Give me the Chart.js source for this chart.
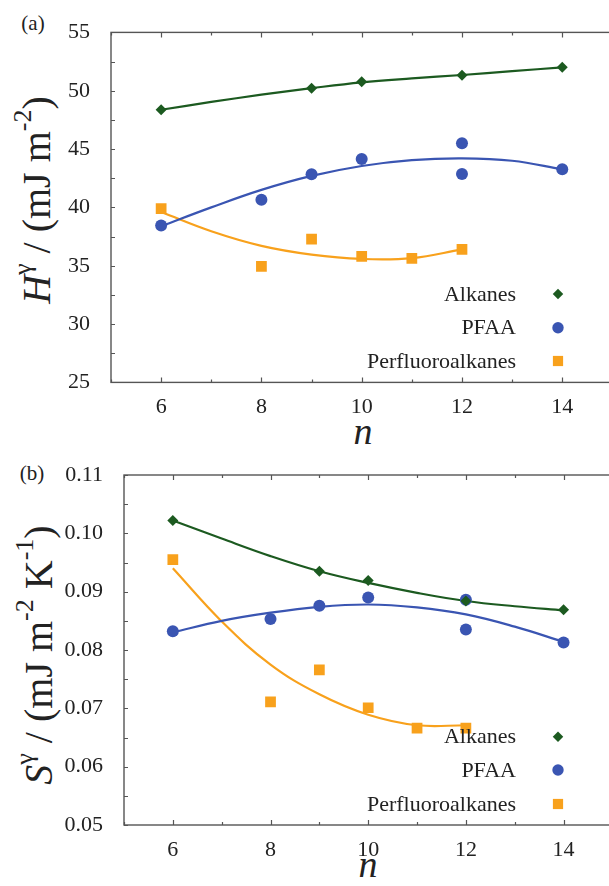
<!DOCTYPE html>
<html>
<head>
<meta charset="utf-8">
<script src="https://cdn.jsdelivr.net/npm/chart.js@4/dist/chart.umd.min.js"></script>
<style>
  body { margin: 0; width: 609px; height: 886px; overflow: hidden; position: relative; background: #fff; font-family: 'Liberation Serif', 'DejaVu Serif', serif; color: #222; }
  canvas { position: absolute; left: 0; }
  .lbl { position: absolute; transform: translate(-50%, -50%); white-space: nowrap; }
  .ytitle { position: absolute; transform: translate(-50%, -50%) rotate(-90deg); white-space: nowrap; font-size: 40px; }
  .ytitle sup { font-size: 26px; vertical-align: 0.7em; line-height: 0; }
  .xtitle { font-size: 38px; font-style: italic; }
  .panel { font-size: 21px; }
</style>
</head>
<body>
<div class="lbl panel" style="left:33px;top:23px">(a)</div>
<div class="lbl panel" style="left:32px;top:473px">(b)</div>
<div class="ytitle" style="left:36px;top:200px"><i>H</i><sup>γ</sup> / (mJ m<sup>-2</sup>)</div>
<div class="ytitle" style="left:38px;top:655px"><i>S</i><sup>γ</sup> / (mJ m<sup>-2</sup> K<sup>-1</sup>)</div>
<div class="lbl xtitle" style="left:363px;top:431px">n</div>
<div class="lbl xtitle" style="left:368px;top:864px">n</div>
<canvas id="chartH" width="620" height="445" style="top:0"></canvas>
<canvas id="chartS" width="620" height="441" style="top:445px"></canvas>
<script>
// x axis
const xTicks = [6, 8, 10, 12, 14];
const fitN = [6, 7, 8, 9, 10, 11, 12, 13, 14];
const fitNPf = [6, 7, 8, 9, 10, 11, 12];

// series names
const names = ['Alkanes', 'PFAA', 'Perfluoroalkanes'];

// panel (a): enthalpy
const hTicks = [25, 30, 35, 40, 45, 50, 55];
const alkN = [6, 9, 10, 12, 14];
const alkH = [48.37, 50.22, 50.77, 51.32, 52.02];
const pfaaN = [6, 8, 9, 10, 12, 12, 14];
const pfaaH = [38.45, 40.65, 42.84, 44.14, 45.5, 42.87, 43.28];
const pfN = [6, 8, 9, 10, 11, 12];
const pfH = [39.9, 34.94, 37.29, 35.8, 35.64, 36.41];
const alkHFit = [48.37, 49.04, 49.66, 50.22, 50.72, 51.06, 51.35, 51.68, 52.0];
const pfaaHFit = [38.38, 40.0, 41.5, 42.7, 43.55, 44.05, 44.2, 44.0, 43.27];
const pfHFit = [39.6, 37.95, 36.7, 35.95, 35.58, 35.65, 36.4];

// panel (b): entropy
const sTicks = [0.05, 0.06, 0.07, 0.08, 0.09, 0.10, 0.11];
const alkS = [0.1022, 0.0935, 0.0919, 0.0884, 0.0869];
const pfaaS = [0.0832, 0.0853, 0.0876, 0.0890, 0.0886, 0.0835, 0.0813];
const pfS = [0.0955, 0.0711, 0.0766, 0.0701, 0.0666, 0.0666];
const alkSFit = [0.1022, 0.0991, 0.0961, 0.0935, 0.0915, 0.0898, 0.0884, 0.0875, 0.0868];
const pfaaSFit = [0.0830, 0.0850, 0.0864, 0.0874, 0.0878, 0.0873, 0.0861, 0.0840, 0.0814];
const pfSFit = [0.0940, 0.0849, 0.0775, 0.0724, 0.0689, 0.0671, 0.0671];

const colors = ['#1c5a20', '#3a55b2', '#f8a11c'];
const styles = [
  { pointStyle: 'rectRot', radius: 5.5 },
  { pointStyle: 'circle', radius: 6 },
  { pointStyle: 'rect', radius: 7.6 }
];
const FONT = "'Liberation Serif', 'DejaVu Serif', serif";

const toXY = (xs, ys) => xs.map((x, i) => ({ x: x, y: ys[i] }));

// frame with inward ticks (major + minor)
const frameTicks = {
  id: 'frameTicks',
  afterDatasetsDraw(chart, args, opts) {
    const { ctx, chartArea: a, scales: { x, y } } = chart;
    ctx.save();
    ctx.strokeStyle = '#555';
    ctx.lineWidth = 1.4;
    ctx.strokeRect(a.left, a.top, a.right - a.left, a.bottom - a.top);
    ctx.lineWidth = 1.2;
    ctx.beginPath();
    for (let v = x.min; v <= x.max; v++) {
      const px = Math.round(x.getPixelForValue(v)) + 0.5;
      const len = v % 2 === 0 ? 5 : 3;
      ctx.moveTo(px, a.bottom); ctx.lineTo(px, a.bottom - len);
      ctx.moveTo(px, a.top); ctx.lineTo(px, a.top + len);
    }
    const yt = opts.yTicks;
    const half = (yt[1] - yt[0]) / 2;
    for (let i = 0; i <= (yt.length - 1) * 2; i++) {
      const py = Math.round(y.getPixelForValue(yt[0] + i * half)) + 0.5;
      ctx.moveTo(a.left, py); ctx.lineTo(a.left + 4, py);
    }
    ctx.stroke();
    ctx.restore();
  }
};

// legend inside the plot: text right aligned, marker to the right
const innerLegend = {
  id: 'innerLegend',
  afterDraw(chart, args, opts) {
    const ctx = chart.ctx;
    ctx.save();
    ctx.font = '22px ' + FONT;
    ctx.textAlign = 'right';
    ctx.textBaseline = 'middle';
    names.forEach((name, i) => {
      const y = opts.rows[i];
      ctx.fillStyle = '#222';
      ctx.fillText(name, opts.textRight, y + 1);
      ctx.fillStyle = colors[i];
      Chart.helpers.drawPoint(ctx, {
        pointStyle: styles[i].pointStyle,
        radius: styles[i].radius * 0.95,
        rotation: 0,
        borderWidth: 0
      }, opts.markerX, y);
    });
    ctx.restore();
  }
};

const makeChart = (id, pts, fits, yTicks, yMin, yMax, box, legendRows, fmt) => {
  const datasets = [];
  pts.forEach((p, i) => {
    datasets.push({
      label: names[i],
      data: p,
      showLine: false,
      pointStyle: styles[i].pointStyle,
      pointRadius: styles[i].radius,
      pointBackgroundColor: colors[i],
      pointBorderWidth: 0,
      borderColor: colors[i],
      order: 0
    });
  });
  fits.forEach((f, i) => {
    datasets.push({
      data: f,
      showLine: true,
      pointRadius: 0,
      borderColor: colors[i],
      borderWidth: 2.2,
      tension: 0.4,
      order: 1
    });
  });
  new Chart(document.getElementById(id).getContext('2d'), {
    type: 'scatter',
    data: { datasets: datasets },
    options: {
      responsive: false,
      animation: false,
      events: [],
      layout: { padding: { left: 0, top: box.top, right: box.right, bottom: 0 } },
      plugins: {
        legend: { display: false },
        tooltip: { enabled: false },
        frameTicks: { yTicks: yTicks },
        innerLegend: { rows: legendRows, textRight: 516, markerX: 558 }
      },
      scales: {
        x: {
          type: 'linear', min: 5, max: 15,
          afterBuildTicks: s => { s.ticks = xTicks.map(v => ({ value: v })); },
          afterFit: s => { s.height = box.xh; },
          grid: { display: false },
          border: { display: false },
          ticks: { font: { family: FONT, size: 22 }, color: '#222', padding: 4 }
        },
        y: {
          min: yMin, max: yMax,
          afterBuildTicks: s => { s.ticks = yTicks.map(v => ({ value: v })); },
          afterFit: s => { s.width = box.left; },
          grid: { display: false },
          border: { display: false },
          ticks: { font: { family: FONT, size: 22 }, color: '#222', padding: 13, callback: fmt }
        }
      }
    },
    plugins: [frameTicks, innerLegend]
  });
};

makeChart('chartH',
  [toXY(alkN, alkH), toXY(pfaaN, pfaaH), toXY(pfN, pfH)],
  [toXY(fitN, alkHFit), toXY(fitN, pfaaHFit), toXY(fitNPf, pfHFit)],
  hTicks, 25, 55,
  { left: 111, top: 32.4, right: 4, xh: 445 - 382.4 },
  [294, 327.7, 361],
  v => v);

makeChart('chartS',
  [toXY(alkN, alkS), toXY(pfaaN, pfaaS), toXY(pfN, pfS)],
  [toXY(fitN, alkSFit), toXY(fitN, pfaaSFit), toXY(fitNPf, pfSFit)],
  sTicks, 0.05, 0.11,
  { left: 124, top: 30, right: 3, xh: 441 - 380 },
  [291.7, 325, 359],
  v => v.toFixed(2));
</script>
</body>
</html>
